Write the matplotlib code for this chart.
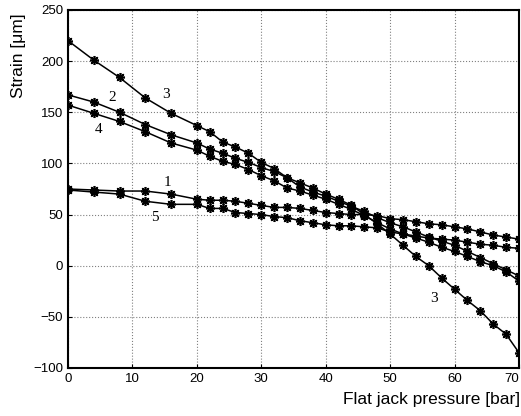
import matplotlib
matplotlib.use('Agg')
import matplotlib.pyplot as plt

# Давление (бар) и деформации для пяти датчиков
pressure = [0, 4, 8, 12, 16, 20, 22, 24, 26, 28, 30, 32, 34, 36, 38, 40,
            42, 44, 46, 48, 50, 52, 54, 56, 58, 60, 62, 64, 66, 68, 70]

strain_1 = [75, 74, 73, 73, 70, 65, 64, 64, 63, 61, 59, 57, 57, 56, 54, 52,
            51, 50, 50, 49, 46, 45, 43, 41, 40, 38, 36, 33, 30, 28, 26]
strain_2 = [167, 160, 150, 138, 128, 120, 114, 110, 105, 101, 96, 92, 86, 77, 72, 68,
            63, 58, 53, 47, 42, 38, 33, 28, 24, 20, 14, 8, 2, -4, -10]
strain_3 = [220, 201, 184, 164, 149, 137, 131, 121, 116, 110, 101, 95, 86, 81, 76, 70,
            65, 59, 50, 41, 31, 20, 9, 0, -12, -23, -34, -44, -57, -67, -85]
strain_4 = [157, 149, 141, 131, 120, 113, 107, 102, 99, 94, 88, 83, 76, 73, 69, 65,
            60, 55, 49, 42, 36, 31, 27, 23, 18, 14, 9, 4, 0, -6, -15]
strain_5 = [74, 72, 70, 63, 60, 60, 56, 56, 52, 51, 50, 48, 47, 44, 42, 40,
            39, 39, 38, 37, 33, 31, 29, 27, 26, 25, 23, 21, 20, 18, 17]

curves = [strain_1, strain_2, strain_3, strain_4, strain_5]

# Подписи кривых: текст, x, y
labels = ['1', '2', '3', '4', '5', '3']
label_x = [15.4, 6.8, 15.2, 4.7, 13.5, 56.8]
label_y = [81, 164, 167, 133, 47, -32]

x_ticks = [0, 10, 20, 30, 40, 50, 60, 70]
y_ticks = [-100, -50, 0, 50, 100, 150, 200, 250]

plt.rcParams['font.family'] = ['Liberation Sans', 'DejaVu Sans']

fig = plt.figure(figsize=(5.21, 4.16), dpi=100)
ax = fig.add_axes([0.1305, 0.1154, 0.8656, 0.8606])

for s in curves:
    ax.plot(pressure, s, color='black', linewidth=1.1,
            marker=(8, 2, 0), markersize=6.5, markeredgewidth=1.2)

for t, lx, ly in zip(labels, label_x, label_y):
    ax.text(lx, ly, t, fontsize=11, family='Liberation Serif',
            ha='center', va='center')

ax.set_xlim(0, 70)
ax.set_ylim(-100, 250)
ax.set_xticks(x_ticks)
ax.set_yticks(y_ticks)
ax.tick_params(direction='in', length=3, labelsize=9.5)
ax.grid(True, linestyle=':', color='gray', linewidth=0.8)
for sp in ax.spines.values():
    sp.set_linewidth(1.5)

# последняя подпись оси x прижата к правому краю, как в оригинале
ax.get_xticklabels()[-1].set_horizontalalignment('right')

fig.text(0.035, 0.865, 'Strain [μm]', rotation=90, fontsize=12.5,
         ha='center', va='center')
fig.text(0.998, 0.04, 'Flat jack pressure [bar]', fontsize=12.5,
         ha='right', va='center')

fig.savefig('out.png', dpi=100)
